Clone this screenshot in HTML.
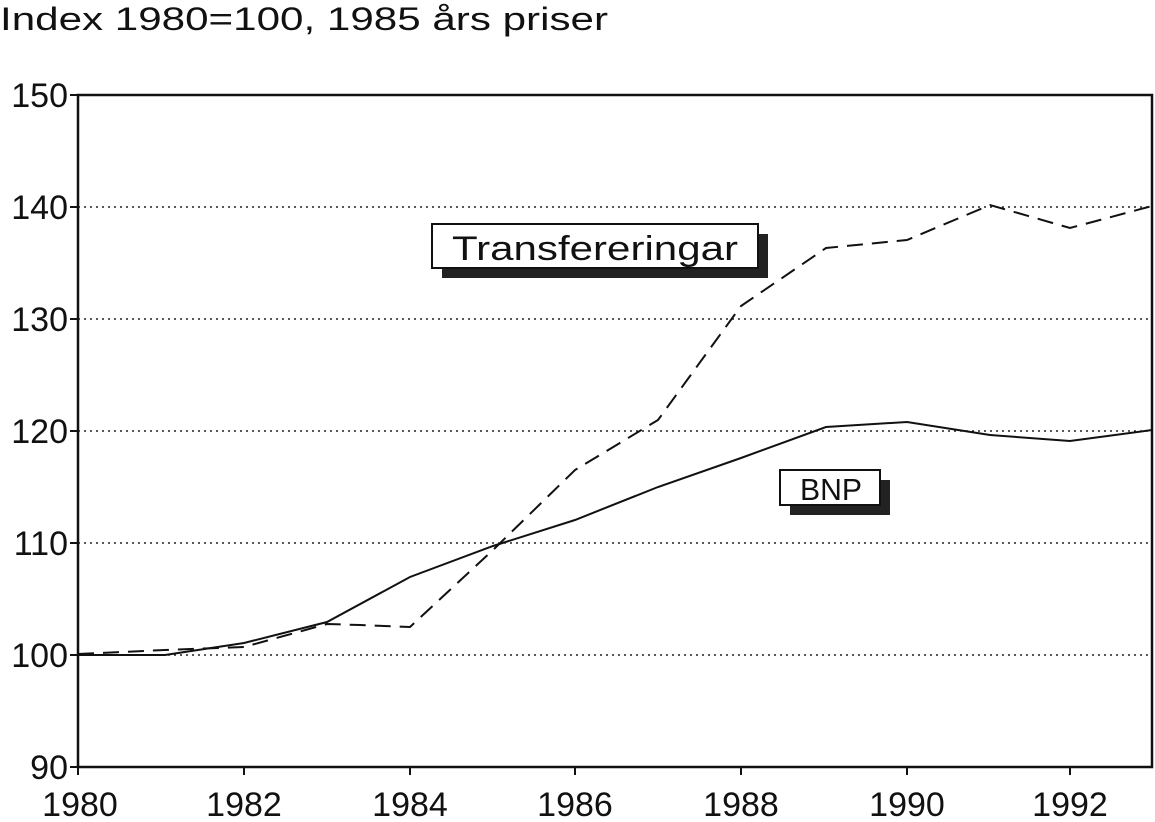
<!DOCTYPE html>
<html><head><meta charset="utf-8"><style>
html,body{margin:0;padding:0;background:#fff;}
svg{display:block;}
text{font-family:"Liberation Sans",sans-serif;fill:#111;}
</style></head><body>
<svg width="1155" height="822" viewBox="0 0 1155 822">
<text x="0" y="30" font-size="32" textLength="608" lengthAdjust="spacingAndGlyphs">Index 1980=100, 1985 års priser</text>
<g stroke="#222" stroke-width="1.5" stroke-dasharray="2,4">
<line x1="78" y1="207" x2="1152" y2="207"/>
<line x1="78" y1="319" x2="1152" y2="319"/>
<line x1="78" y1="431" x2="1152" y2="431"/>
<line x1="78" y1="543" x2="1152" y2="543"/>
<line x1="78" y1="655" x2="1152" y2="655"/>
</g>
<rect x="78" y="95" width="1074" height="672" fill="none" stroke="#111" stroke-width="2.5"/>
<g stroke="#111" stroke-width="2">
<line x1="70" y1="95" x2="78" y2="95"/><line x1="70" y1="207" x2="78" y2="207"/><line x1="70" y1="319" x2="78" y2="319"/><line x1="70" y1="431" x2="78" y2="431"/><line x1="70" y1="543" x2="78" y2="543"/><line x1="70" y1="655" x2="78" y2="655"/><line x1="70" y1="767" x2="78" y2="767"/>
<line x1="78" y1="767" x2="78" y2="775"/><line x1="244" y1="767" x2="244" y2="775"/><line x1="410" y1="767" x2="410" y2="775"/><line x1="575" y1="767" x2="575" y2="775"/><line x1="741" y1="767" x2="741" y2="775"/><line x1="907" y1="767" x2="907" y2="775"/><line x1="1070" y1="767" x2="1070" y2="775"/>
</g>
<g font-size="34" text-anchor="end">
<text x="68" y="107">150</text><text x="68" y="219">140</text><text x="68" y="331">130</text><text x="68" y="443">120</text><text x="68" y="555">110</text><text x="68" y="667">100</text><text x="68" y="779">90</text>
</g>
<g font-size="34" text-anchor="middle">
<text x="80" y="816">1980</text><text x="244" y="816">1982</text><text x="410" y="816">1984</text><text x="575" y="816">1986</text><text x="741" y="816">1988</text><text x="907" y="816">1990</text><text x="1070" y="816">1992</text>
</g>
<polyline fill="none" stroke="#111" stroke-width="2" points="78,655 165,655 244,643 327,622 410,577 493,546 575,520 658,487 741,458 826,427 907,422 990,435 1070,441 1152,430"/>
<polyline fill="none" stroke="#111" stroke-width="2" stroke-dasharray="16,9" points="78,654 165,650 244,647 327,624 360,625 410,627 493,550 575,470 658,420 741,306 826,248 907,240 990,205 1070,228 1152,206"/>
<rect x="442" y="234" width="326" height="44" fill="#222"/>
<rect x="432" y="224" width="326" height="44" fill="#fff" stroke="#111" stroke-width="2"/>
<text x="452" y="260" font-size="34" textLength="286" lengthAdjust="spacingAndGlyphs">Transfereringar</text>
<rect x="790" y="480" width="100" height="35" fill="#222"/>
<rect x="780" y="470" width="100" height="35" fill="#fff" stroke="#111" stroke-width="2"/>
<text x="800" y="500" font-size="31" textLength="62" lengthAdjust="spacingAndGlyphs">BNP</text>
</svg>
</body></html>
